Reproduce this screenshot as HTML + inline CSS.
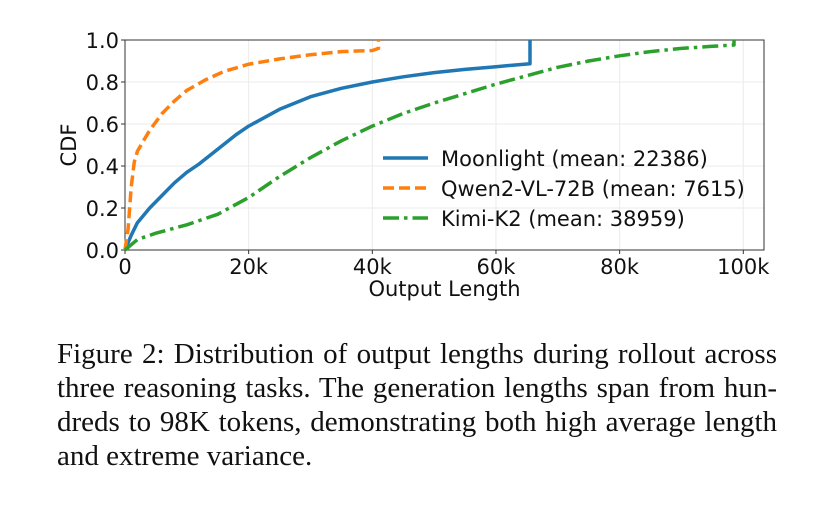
<!DOCTYPE html>
<html><head><meta charset="utf-8"><style>
body{margin:0;width:834px;height:507px;background:#fff;overflow:hidden;position:relative}
svg{position:absolute;left:0;top:0}
.cap{position:absolute;left:57px;width:720px;font-family:"Liberation Serif",serif;font-size:29px;color:#111;line-height:34px}
.cap div{text-align:justify;text-align-last:justify;white-space:nowrap}
.cap div.last{text-align-last:left}
</style></head><body>
<svg id="chart" width="834" height="320" font-family="DejaVu Sans, sans-serif"></svg>
<div class="cap" style="top:337px">
<div>Figure 2: Distribution of output lengths during rollout across</div>
<div>three reasoning tasks. The generation lengths span from hun-</div>
<div>dreds to 98K tokens, demonstrating both high average length</div>
<div class="last">and extreme variance.</div>
</div>
<script>
const xTicks=[0,20000,40000,60000,80000,100000];
const xTickLabels=["0","20k","40k","60k","80k","100k"];
const yTicks=[0,0.2,0.4,0.6,0.8,1.0];
const yTickLabels=["0.0","0.2","0.4","0.6","0.8","1.0"];
const seriesNames=["Moonlight (mean: 22386)","Qwen2-VL-72B (mean: 7615)","Kimi-K2 (mean: 38959)"];
const moonX=[0,1000,2000,4000,6000,8000,10000,12000,15000,18000,20000,25000,30000,35000,40000,45000,50000,55000,60000,65500,65500];
const moonY=[0,0.07,0.13,0.2,0.26,0.32,0.37,0.41,0.48,0.55,0.59,0.67,0.73,0.77,0.8,0.825,0.845,0.86,0.873,0.887,1.0];
const qwenX=[0,500,1000,1500,2000,3000,4000,6000,8000,10000,13000,16000,20000,25000,30000,35000,40000,41000,41000];
const qwenY=[0,0.1,0.3,0.42,0.47,0.52,0.57,0.65,0.71,0.76,0.81,0.85,0.885,0.91,0.93,0.945,0.95,0.96,1.0];
const kimiX=[0,2000,5000,10000,15000,20000,25000,30000,35000,40000,45000,50000,55000,60000,65000,70000,75000,80000,85000,90000,95000,98500,98500];
const kimiY=[0,0.05,0.08,0.12,0.17,0.25,0.35,0.44,0.52,0.59,0.65,0.7,0.745,0.79,0.83,0.87,0.9,0.925,0.945,0.96,0.97,0.976,1.0];
const L=125,R=764,T=40,B=250,XMAX=103350;
const sx=v=>L+v/XMAX*(R-L), sy=v=>B-v*(B-T);
const svg=document.getElementById('chart');const NS='http://www.w3.org/2000/svg';
function mk(t,a){const e=document.createElementNS(NS,t);for(const k in a)e.setAttribute(k,a[k]);svg.appendChild(e);return e;}
xTicks.forEach((v,i)=>{
 const g=mk('line',{x1:sx(v),x2:sx(v),y1:T,y2:B,stroke:'#ebebeb','stroke-width':1});
 
 
 const tk=mk('line',{x1:sx(v),x2:sx(v),y1:B,y2:B+4,stroke:'#333'});
 
 
 const t=mk('text',{x:sx(v),y:B+24,'text-anchor':'middle','font-size':21,fill:'#111'});t.textContent=xTickLabels[i];
 
 
});
yTicks.forEach((v,i)=>{
 const g=mk('line',{x1:L,x2:R,y1:sy(v),y2:sy(v),stroke:'#ebebeb','stroke-width':1});
 
 
 const tk=mk('line',{x1:L-4,x2:L,y1:sy(v),y2:sy(v),stroke:'#333'});
 
 
 const t=mk('text',{x:L-6,y:sy(v)+8,'text-anchor':'end','font-size':21,fill:'#111'});t.textContent=yTickLabels[i];
 
 
});
const fr=mk('rect',{x:L,y:T,width:R-L,height:B-T,fill:'none',stroke:'#333','stroke-width':1});


const styles=[{c:'#1f77b4',d:''},{c:'#ff7f0e',d:'11 5'},{c:'#2ca02c',d:'16 5 3.5 5'}];
const data=[[moonX,moonY],[qwenX,qwenY],[kimiX,kimiY]];
const names=['moonlight-line','qwen-line','kimi-line'];
data.forEach((s,i)=>{
 const p=s[0].map((x,j)=>sx(x).toFixed(1)+','+sy(s[1][j]).toFixed(1)).join(' ');
 const pl=mk('polyline',{points:p,fill:'none',stroke:styles[i].c,'stroke-width':3.5,'stroke-dasharray':styles[i].d,'stroke-linejoin':'round'});
 
 
});
seriesNames.forEach((n,i)=>{
 const y=158+i*30;
 const l=mk('line',{x1:383,x2:428,y1:y,y2:y,stroke:styles[i].c,'stroke-width':3.5,'stroke-dasharray':styles[i].d});
 
 
 const t=mk('text',{x:441,y:y+8,'font-size':21,fill:'#111'});t.textContent=n;
 
 
});
const yt=mk('text',{x:0,y:0,'font-size':21,fill:'#111','text-anchor':'middle',transform:'translate(76,145) rotate(-90)'});yt.textContent='CDF';


const xt=mk('text',{x:(L+R)/2,y:296,'font-size':21,fill:'#111','text-anchor':'middle'});xt.textContent='Output Length';


</script>
</body></html>
